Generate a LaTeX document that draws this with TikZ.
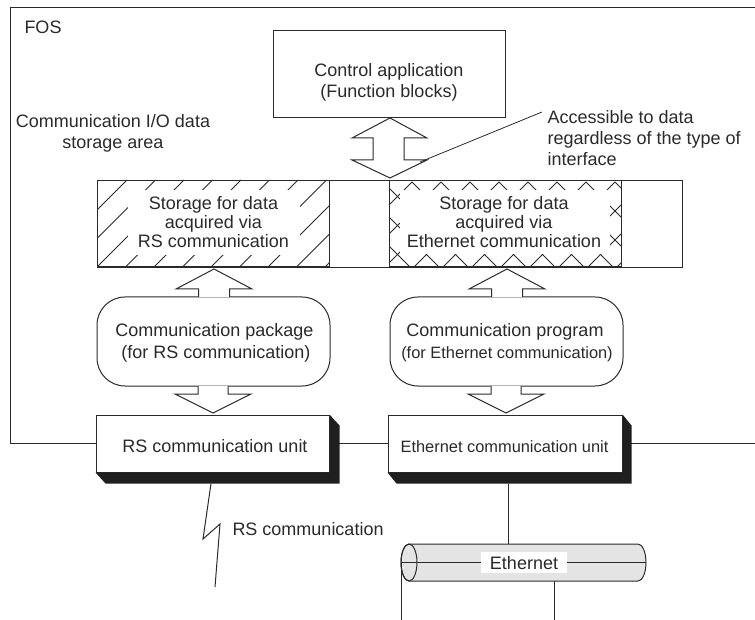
\documentclass[tikz,border=0pt]{standalone}
\usepackage{fontspec}
\setmainfont{Liberation Sans}
\usetikzlibrary{calc}
\definecolor{ink}{HTML}{2A2A2A}
\definecolor{cablegray}{HTML}{E4E4E4}
\begin{document}
\begin{tikzpicture}[x=1pt,y=-1pt,line width=1pt,
  txt/.style={font=\fontsize{18}{21}\selectfont, text=ink, inner sep=0pt},
  small/.style={font=\fontsize{16.4}{20}\selectfont, text=ink, inner sep=0pt},
  box/.style={draw=ink, fill=white, line width=1pt, inner sep=0pt},
  rbox/.style={box, rounded corners=28pt},
  blank/.style={fill=white, inner sep=0pt},
  hatch/.style={draw=ink, line width=0.8pt},
  blockarrow/.style={draw=ink, fill=white, line width=1pt, line join=miter},
  shadow/.style={fill=black!88},
  wire/.style={draw=ink, line width=1pt},
  blkup/.pic={\draw[blockarrow] (-15.5,28) -- (-15.5,20) -- (-38,20) -- (0,0) -- (38,20) -- (15.5,20) -- (15.5,28);},
  blkdown/.pic={\draw[blockarrow] (-15,-27) -- (-15,-19) -- (-38,-19) -- (0,0) -- (38,-19) -- (15,-19) -- (15,-27);}
]
\useasboundingbox (0,0) rectangle (755,620);

% frame coordinates
\coordinate (fTR) at (755,8);
\coordinate (fTL) at (10,8);
\coordinate (fBL) at (10,443.5);
\coordinate (fBR) at (755,443.5);

% nodes
\node[box, minimum width=232pt, minimum height=87pt] (ctrl) at (389,74.5) {};
\node[rbox, minimum width=233pt, minimum height=89pt] (pkg) at (213.5,341.5) {};
\node[rbox, minimum width=233pt, minimum height=89pt] (prog) at (506.5,341.5) {};
\node[box, minimum width=233pt, minimum height=57pt] (rsu) at (212.5,443.5) {};
\node[box, minimum width=234pt, minimum height=57pt] (ethu) at (505,443.5) {};

% frame lines
\draw[wire] (fTR) -- (fTL) -- (fBL) -- (rsu.west);
\draw[wire] (rsu.east) -- (ethu.west);
\draw[wire] (ethu.east) -- (fBR);

% shadows
\fill[shadow] (rsu.north east) -- ++(10,11) -- ($(rsu.south east)+(10,11)$) -- ($(rsu.south west)+(10,11)$) -- (rsu.south west) -- (rsu.south east) -- cycle;
\fill[shadow] (ethu.north east) -- ++(9,11) -- ($(ethu.south east)+(9,11)$) -- ($(ethu.south west)+(9,11)$) -- (ethu.south west) -- (ethu.south east) -- cycle;

% texts
\node[txt, anchor=base west] (fos) at (24,34) {FOS};
\node[txt, align=center] (cio) at (113,133) {Communication I/O data\\storage area};
\node[txt, align=center] (ctrlt) at (389,82.5) {Control application\\(Function blocks)};
\node[txt, align=left, anchor=north west] (acc) at (547,109.5) {Accessible to data\\regardless of the type of\\interface};

% double arrow
\draw[blockarrow] (390,118) -- (427,138) -- (404,138) -- (404,160) -- (427,160) -- (390,178) -- (352,160) -- (373,160) -- (373,138) -- (352,138) -- cycle;
\coordinate (lead0) at (420,162);
\coordinate (lead1) at (542,112);
\draw[wire, line width=0.8pt] (lead0) -- (lead1);

% hatched RS region
\begin{scope}
\clip (97,180) rectangle (329,267);
\foreach \k in {-1,...,10} \draw[hatch] ({127+28.5*\k},180) -- ++(-87,87);
\end{scope}
% crosshatched Ethernet region
\begin{scope}
\clip (389,180) rectangle (621,267);
\foreach \k in {-4,...,10} {
  \draw[hatch] ({412+29*\k},182) -- ++(90,90);
  \draw[hatch] ({412+29*\k},182) -- ++(-90,90);
}
\end{scope}
\node[blank, minimum width=172pt, minimum height=65pt] (rsblank) at (214,222.5) {};
\node[blank, minimum width=210pt, minimum height=64pt] (etblank) at (505,222.5) {};
\node[txt, anchor=base] (rs1) at (213.5,210) {Storage for data};
\node[txt, anchor=base] (rs2) at (213.5,229) {acquired via};
\node[txt, anchor=base] (rs3) at (213.5,248) {RS communication};
\node[txt, anchor=base] (et1) at (504,210) {Storage for data};
\node[txt, anchor=base] (et2) at (504,229) {acquired via};
\node[txt, anchor=base] (et3) at (504,248) {Ethernet communication};

\draw[draw=ink, line width=0.8pt] (97,180) rectangle (682,267);
\draw[wire] (329,180) -- (329,267);
\draw[wire] (389,180) -- (389,267);
\draw[wire] (621,180) -- (621,267);
\draw[draw=ink, line width=2pt] (97,267) -- (329,267);
\draw[draw=ink, line width=2pt] (389,267) -- (621,267);

% block arrows
\pic at (214,269) {blkup};
\pic at (507,269) {blkup};
\pic at (213,413) {blkdown};
\pic at (506,413) {blkdown};

% box texts
\node[txt, anchor=base] (pkg1) at (214.5,337) {Communication package};
\node[txt, anchor=base] (pkg2) at (216,358) {(for RS communication)};
\node[txt, anchor=base] (prog1) at (505,337) {Communication program};
\node[small, anchor=base] (prog2) at (507,358) {(for Ethernet communication)};
\node[txt, anchor=base] (rsut) at (215,452.5) {RS communication unit};
\node[small, anchor=base] (ethut) at (504.5,452.5) {Ethernet communication unit};

% RS link
\coordinate (rsend) at (215,587);
\draw[wire] ([shift={(-1.5,11)}]rsu.south) -- (203,539) -- (220,524) -- (rsend);
\node[txt, anchor=base west] (rsl) at (232,535.5) {RS communication};

% Ethernet cable
\coordinate (cabtop) at (508,544);
\draw[wire] ([shift={(3,11)}]ethu.south) -- (cabtop);
\draw[wire, fill=cablegray] (409,544) -- (638,544) arc[start angle=90,end angle=-90,x radius=8pt,y radius=18.5pt] -- (409,581) arc[start angle=270,end angle=90,x radius=8pt,y radius=18.5pt] -- cycle;
\draw[wire] (409,562.5) ellipse [x radius=8pt, y radius=18.5pt];
\coordinate (tapA) at (401,562.5);
\coordinate (tapB) at (646,562.5);
\coordinate (dropA) at (401,620);
\coordinate (tapC) at (554,581);
\coordinate (dropB) at (554,620);
\draw[wire] (tapA) -- (tapB);
\draw[wire] (tapA) -- (dropA);
\draw[wire] (tapC) -- (dropB);
\node[txt, fill=white, inner xsep=9pt, inner ysep=4pt, anchor=base] (ethl) at (524,569) {Ethernet};
\end{tikzpicture}
\end{document}
